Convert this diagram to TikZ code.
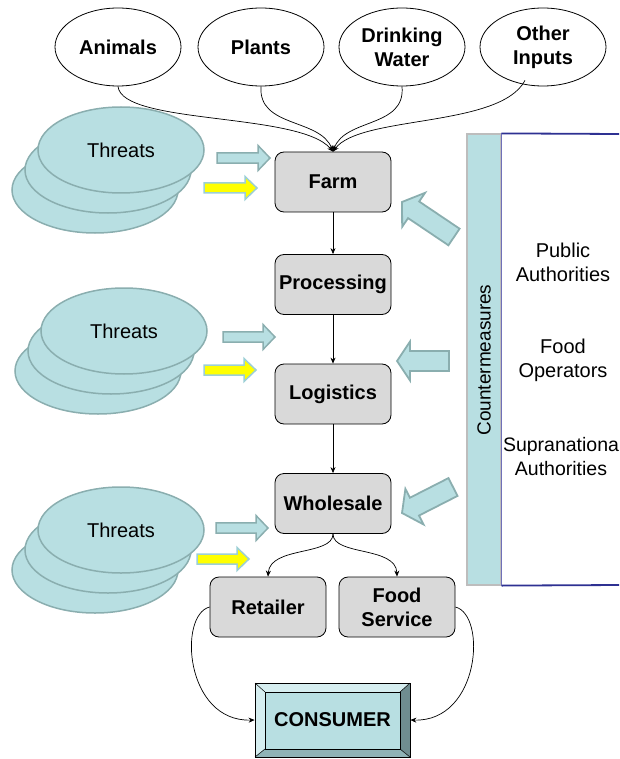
\documentclass[tikz,border=0pt]{standalone}
\usepackage{fontspec}
\setmainfont{Liberation Sans}
\usetikzlibrary{arrows.meta,calc,shapes.geometric}
\definecolor{tealfill}{HTML}{B8DFE2}
\definecolor{tealline}{HTML}{8AAEAF}
\definecolor{boxgray}{HTML}{D9D9D9}
\definecolor{yellowfill}{HTML}{FFFF00}
\definecolor{yellowline}{HTML}{9CCFD6}
\definecolor{barline}{HTML}{BDBDBD}
\definecolor{navyline}{HTML}{2E3192}
\definecolor{violetline}{HTML}{7070B8}
\definecolor{bevellight}{HTML}{D6EEF0}
\definecolor{beveldark}{HTML}{6F8D90}
\definecolor{bevelmid}{HTML}{8FB3B6}
\newcommand\blockarr[6]{%
  \coordinate (#2h) at ($(#3)!#6!(#2)$);
  \draw[#1] ($(#2)!#4!90:(#3)$) -- ($(#2h)!#4!90:(#3)$) -- ($(#2h)!#5!90:(#3)$) -- (#3)
    -- ($(#2h)!#5!-90:(#3)$) -- ($(#2h)!#4!-90:(#3)$) -- ($(#2)!#4!-90:(#3)$) -- cycle;}
\begin{document}
\begin{tikzpicture}[x=1pt,y=-1pt,
  txt/.style={font=\fontsize{20}{24}\selectfont, align=center},
  btxt/.style={font=\bfseries\fontsize{20}{24}\selectfont, align=center},
  inputell/.style={ellipse, draw=black, line width=0.8pt, fill=white, minimum width=126pt, minimum height=78pt, inner sep=0pt, btxt},
  stage/.style={rectangle, rounded corners=9pt, draw=black, line width=0.8pt, fill=boxgray, minimum width=116pt, minimum height=60pt, inner sep=0pt, btxt},
  threat/.style={ellipse, draw=tealline, line width=1.5pt, fill=tealfill, minimum width=166pt, minimum height=86pt, inner sep=0pt, txt},
  bluearr/.style={fill=tealfill, draw=tealline, line width=1.5pt, line join=miter},
  yelarr/.style={fill=yellowfill, draw=yellowline, line width=1.5pt, line join=miter},
  cmarr/.style={fill=tealfill, draw=tealline, line width=1.8pt, line join=miter},
  flow/.style={line width=0.7pt, -{Stealth[length=6pt,width=5pt]}}
]
\useasboundingbox (0,0) rectangle (619,759);

% input ellipses
\node[inputell] (animals) at (118,47) {Animals};
\node[inputell] (plants) at (261,47) {Plants};
\node[inputell] (water) at (402,47) {Drinking\\Water};
\node[inputell] (other) at (543,47) {Other\\Inputs};

% chain boxes
\node[stage] (farm) at (333,182) {Farm};
\node[stage] (proc) at (333,284.5) {Processing};
\node[stage] (logi) at (333,394) {Logistics};
\node[stage] (whole) at (333,503.5) {Wholesale};
\node[stage] (retail) at (268,607) {Retailer};
\node[stage] (foodserv) at (397,607) {Food\\Service};

% input curves
\draw[flow] (animals.south) .. controls (122,125) and (300,112) .. (farm.north);
\draw[flow] (plants.south) .. controls (258,128) and (320,118) .. (farm.north);
\draw[flow] (water.south) .. controls (406,128) and (345,118) .. (farm.north);
\draw[flow] ($(other.south)+(-18,-6)$) .. controls (500,128) and (360,115) .. (farm.north);

% chain arrows
\draw[flow] (farm.south) -- (proc.north);
\draw[flow] (proc.south) -- (logi.north);
\draw[flow] (logi.south) -- (whole.north);
\draw[flow] (whole.south) .. controls (333,556) and (270,546) .. (retail.north);
\draw[flow] (whole.south) .. controls (333,556) and (396,546) .. (foodserv.north);

% threats stacks
\node[threat] (t1c) at (95,190) {};
\node[threat] (t1b) at (108,170) {};
\node[threat] (t1a) at (121,150) {Threats};
\node[threat] (t2c) at (98,371) {};
\node[threat] (t2b) at (111,351) {};
\node[threat] (t2a) at (124,331) {Threats};
\node[threat] (t3c) at (95,570) {};
\node[threat] (t3b) at (108,550) {};
\node[threat] (t3a) at (121,530) {Threats};

% threat arrows
\coordinate (b1s) at (217,158); \coordinate (b1e) at (270,158);
\coordinate (y1s) at (204,188); \coordinate (y1e) at (257,188);
\coordinate (b2s) at (223,337); \coordinate (b2e) at (275,337);
\coordinate (y2s) at (204,370); \coordinate (y2e) at (256,370);
\coordinate (b3s) at (216,528); \coordinate (b3e) at (268,528);
\coordinate (y3s) at (197,559); \coordinate (y3e) at (249,559);
\blockarr{bluearr}{b1s}{b1e}{5.2pt}{12.5pt}{12pt}
\blockarr{yelarr}{y1s}{y1e}{5pt}{11.5pt}{12pt}
\blockarr{bluearr}{b2s}{b2e}{5.2pt}{12.5pt}{12pt}
\blockarr{yelarr}{y2s}{y2e}{5pt}{11.5pt}{12pt}
\blockarr{bluearr}{b3s}{b3e}{5.2pt}{12.5pt}{12pt}
\blockarr{yelarr}{y3s}{y3e}{5pt}{11.5pt}{12pt}

% countermeasures bar
\node[rectangle, draw=barline, line width=1.2pt, fill=tealfill, minimum width=34pt, minimum height=451pt, inner sep=0pt] (cm) at (484,359.5) {};
\node[txt, rotate=90, font=\fontsize{19}{22}\selectfont] (cmtext) at (484,360) {Countermeasures};
\draw[violetline, line width=0.8pt] (cm.north east) -- (cm.south east);
\coordinate (topend) at (619,134);
\coordinate (botend) at (619,585);
\draw[navyline, line width=1.8pt] (cm.north east) -- (topend);
\draw[navyline, line width=1.8pt] (cm.south east) -- (botend);

\node[txt] (pub) at (563,262) {Public\\Authorities};
\node[txt] (fop) at (563,360) {Food\\Operators};
\node[txt, font=\fontsize{19.5}{24}\selectfont] (sup) at (561,457) {Supranationa\\Authorities};

% countermeasure arrows
\coordinate (c1s) at (454,237); \coordinate (c1e) at (402,202);
\coordinate (c2s) at (449,361); \coordinate (c2e) at (397,361);
\coordinate (c3s) at (453,487); \coordinate (c3e) at (402,513);
\blockarr{cmarr}{c1s}{c1e}{10pt}{20.5pt}{14pt}
\blockarr{cmarr}{c2s}{c2e}{10pt}{19.5pt}{13pt}
\blockarr{cmarr}{c3s}{c3e}{10pt}{20pt}{14pt}

% consumer bevel box
\fill[bevellight] (255,683) -- (410,683) -- (400,692) -- (265,692) -- cycle;
\fill[bevellight] (255,683) -- (265,692) -- (265,749) -- (255,757) -- cycle;
\fill[beveldark] (410,683) -- (410,757) -- (400,749) -- (400,692) -- cycle;
\fill[bevelmid] (255,757) -- (410,757) -- (400,749) -- (265,749) -- cycle;
\draw[line width=0.6pt, fill=tealfill] (265,692) rectangle (400,749);
\draw[line width=0.5pt] (255,683) -- (265,692) (410,683) -- (400,692) (255,757) -- (265,749) (410,757) -- (400,749);
\node[rectangle, draw=black, line width=0.8pt, minimum width=155pt, minimum height=74pt, inner sep=0pt, btxt] (cons) at (332.5,720) {CONSUMER};

\draw[flow] (retail.west) .. controls (178,615) and (185,722) .. (cons.west);
\draw[flow] (foodserv.east) .. controls (487,615) and (480,722) .. (cons.east);
\end{tikzpicture}
\end{document}
